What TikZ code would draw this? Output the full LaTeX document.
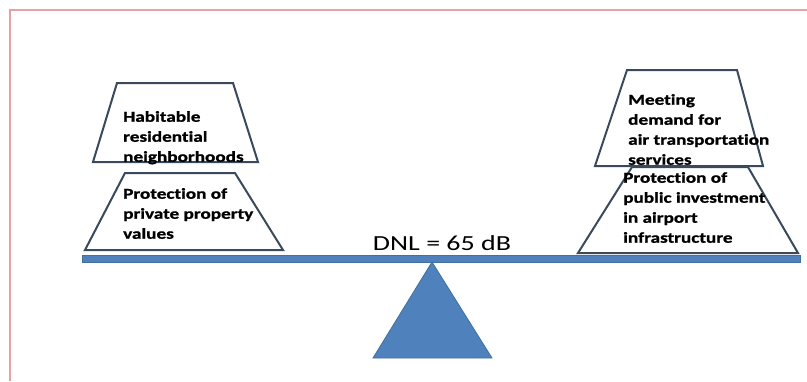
\documentclass[tikz,border=0pt]{standalone}
\usepackage{fontspec}
\setmainfont{Carlito}
\newfontfamily\widefont[FakeStretch=1.3]{Carlito}
\newfontfamily\widebold[FakeStretch=1.28,FakeBold=1.2,Ligatures=NoCommon]{Carlito Bold}
\definecolor{beamblue}{HTML}{4F81BD}
\definecolor{beamedge}{HTML}{41719C}
\definecolor{trapedge}{HTML}{3A4A5C}
\definecolor{framered}{HTML}{E6A0A6}
\tikzset{
  trap/.style={draw=trapedge, line width=2pt, fill=white, line join=miter},
  lbl/.style={anchor=north west, inner sep=0pt, align=left,
    font=\widebold\fontsize{15}{20}\selectfont},
  blue/.style={fill=beamblue, draw=beamedge, line width=0.8pt},
}
\begin{document}
\begin{tikzpicture}[x=1pt,y=-1pt]
\useasboundingbox (0,0) rectangle (807,381);
\fill[white] (0,0) rectangle (807,381);
% frame
\draw[framered, line width=2pt] (9.5,381) -- (9.5,9.5) -- (807,9.5);
% left stack
\draw[trap] (117,83) -- (233,83) -- (258,162) -- (93,162) -- cycle;
\draw[trap] (125,173) -- (235,173) -- (283,250) -- (85,250) -- cycle;
% right stack
\draw[trap] (632,167) -- (748,167) -- (798,253) -- (578,253) -- cycle;
\draw[trap] (627,70) -- (737,70) -- (763,166) -- (595,166) -- cycle;
% beam
\draw[blue] (82,255) rectangle (800,262);
\coordinate (apex) at (432,262);
\coordinate (bl) at (373,358);
\coordinate (br) at (492,358);
\draw[blue] (apex) -- (br) -- (bl) -- cycle;
% texts
\node[lbl] (hab) at (123,111) {Habitable\\residential\\neighborhoods};
\node[lbl] (ppv) at (123,188) {Protection of\\private property\\values};
\node[lbl] (meet) at (628,94) {Meeting\\demand for\\air transportation\\services};
\node[lbl] (pub) at (623,172) {Protection of\\public investment\\in airport\\infrastructure};
\node[anchor=base, inner sep=0pt, font=\widefont\fontsize{21.5}{24}\selectfont] (dnl) at (442,250) {DNL = 65 dB};
\end{tikzpicture}
\end{document}
